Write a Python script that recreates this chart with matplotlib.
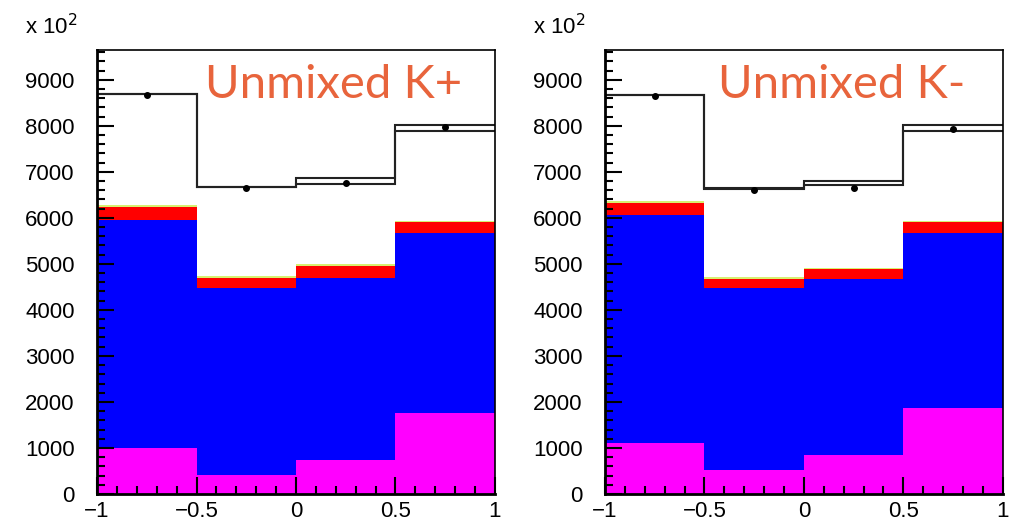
import numpy as np
import matplotlib.pyplot as plt
from matplotlib.ticker import MultipleLocator

edges = [-1, -0.5, 0, 0.5, 1]
xlabels = ['\u22121', '\u22120.5', '0', '0.5', '1']

# left panel (K+), units of 10^2
magenta_p = [1000, 410, 740, 1760]
blue_p = [4960, 4070, 3960, 3910]
red_p = [280, 220, 260, 240]
green_p = [40, 30, 30, 30]
mc_p = [8700, 6680, 6860, 8010]
dat_p = [8700, 6680, 6740, 7890]
pts_p = [8680, 6660, 6760, 7980]

# right panel (K-)
magenta_m = [1110, 520, 850, 1870]
blue_m = [4950, 3960, 3830, 3800]
red_m = [260, 200, 210, 240]
green_m = [40, 30, 30, 30]
mc_m = [8670, 6650, 6800, 8020]
dat_m = [8670, 6630, 6720, 7890]
pts_m = [8650, 6600, 6650, 7930]

titles = ["Unmixed K+", "Unmixed K-"]

fig = plt.figure(figsize=(10.15, 5.26), dpi=100)
plt.rcParams['font.family'] = ['Liberation Sans', 'DejaVu Sans']

panels = [
    (magenta_p, blue_p, red_p, green_p, mc_p, dat_p, pts_p),
    (magenta_m, blue_m, red_m, green_m, mc_m, dat_m, pts_m),
]
lefts = [0.0956, 0.596]

for k, (mag, blu, red, grn, mc, dat, pts) in enumerate(panels):
    ax = fig.add_axes([lefts[k], 0.061, 0.392, 0.844])
    left = np.array(edges[:-1])
    bottom = np.zeros(4)
    for vals, col in [(mag, '#ff00ff'), (blu, '#0000ff'), (red, '#ff0000'), (grn, '#d8f070')]:
        ax.bar(left, vals, width=0.5, bottom=bottom, align='edge', color=col, linewidth=0)
        bottom = bottom + np.array(vals)
    ax.stairs(mc, edges, color='#222222', lw=1.5, baseline=None)
    ax.stairs(dat, edges, color='#222222', lw=1.5, baseline=None)
    centers = (np.array(edges[:-1]) + np.array(edges[1:])) / 2
    ax.plot(centers, pts, 'o', color='black', ms=4)

    ax.set_xlim(-1, 1)
    ax.set_ylim(0, 9650)
    ax.set_xticks(edges, xlabels)
    ax.xaxis.set_minor_locator(MultipleLocator(0.1))
    ax.yaxis.set_major_locator(MultipleLocator(1000))
    ax.yaxis.set_minor_locator(MultipleLocator(200))
    ax.tick_params(which='both', direction='in', width=1.5, labelsize=16, colors='black')
    ax.tick_params(which='major', length=12)
    ax.tick_params(which='minor', length=6)
    ax.tick_params(axis='y', pad=16)
    ax.tick_params(axis='x', pad=5)
    for s in ax.spines.values():
        s.set_linewidth(1.2)
    ax.spines['left'].set_linewidth(2)
    ax.spines['bottom'].set_linewidth(2)
    ax.text(-0.18, 1.035, r'x 10$^2$', transform=ax.transAxes, fontsize=16)
    ax.text(0.595, 0.92, titles[k], transform=ax.transAxes, fontsize=34,
            color='#e8643c', ha='center', va='center', family='Lato')

fig.savefig('out.png', dpi=100)
